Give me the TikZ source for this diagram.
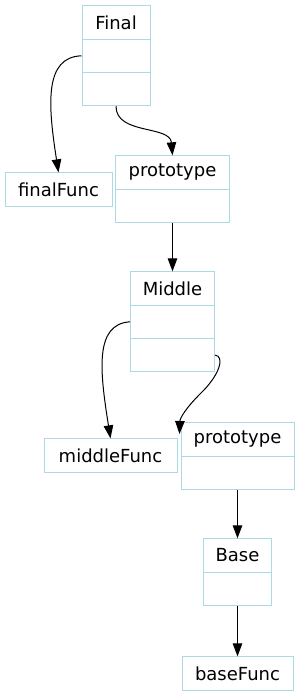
\documentclass[tikz,border=0pt]{standalone}
\usepackage{fontspec}
\setmainfont{DejaVu Sans}
\usetikzlibrary{arrows.meta}
\definecolor{cellblue}{HTML}{ADD8E6}
\tikzset{
  cell/.style={draw=cellblue, line width=1pt, inner sep=0pt, minimum height=33.3pt, font=\fontsize{18}{20}\selectfont, anchor=center},
  edge/.style={draw=black, line width=1pt, -{Triangle[length=13pt,width=9.5pt]}}
}
\begin{document}
\begin{tikzpicture}[x=1pt,y=-1pt]
\useasboundingbox (0,0) rectangle (299,696);
% Final
\node[cell, minimum width=68pt] (final1) at (116,22.5) {Final};
\node[cell, minimum width=68pt] (final2) at (116,55.8) {};
\node[cell, minimum width=68pt] (final3) at (116,89.1) {};
% finalFunc
\node[cell, minimum width=107pt] (finalFunc) at (58.5,189.5) {finalFunc};
% prototype 1
\node[cell, minimum width=114pt] (prot1a) at (172.5,172.5) {prototype};
\node[cell, minimum width=114pt] (prot1b) at (172.5,205.8) {};
% Middle
\node[cell, minimum width=84pt] (mid1) at (172.5,288.5) {Middle};
\node[cell, minimum width=84pt] (mid2) at (172.5,321.8) {};
\node[cell, minimum width=84pt] (mid3) at (172.5,355.1) {};
% middleFunc
\node[cell, minimum width=133pt] (middleFunc) at (110.5,455.5) {middleFunc};
% prototype 2
\node[cell, minimum width=113pt] (prot2a) at (237.5,439.5) {prototype};
\node[cell, minimum width=113pt] (prot2b) at (237.5,472.8) {};
% Base
\node[cell, minimum width=68pt] (base1) at (237.5,555.5) {Base};
\node[cell, minimum width=68pt] (base2) at (237.5,588.8) {};
% baseFunc
\node[cell, minimum width=111pt] (baseFunc) at (237.5,673.5) {baseFunc};
\coordinate (p2tip) at (179.5,434);
% edges
\draw[edge] (final2.west) .. controls (44,57) and (48,105) .. (finalFunc.north);
\draw[edge] (final3.south) .. controls (116,135) and (170,125) .. (prot1a.north);
\draw[edge] (prot1b.south) -- (mid1.north);
\draw[edge] (mid2.west) .. controls (94,324) and (100,372) .. (middleFunc.north);
\draw[edge] (mid3.east) .. controls (225,356) and (220,375) .. (200,394) .. controls (186,408) and (180,418) .. (p2tip);
\draw[edge] (prot2b.south) -- (base1.north);
\draw[edge] (base2.south) -- (baseFunc.north);
\end{tikzpicture}
\end{document}
